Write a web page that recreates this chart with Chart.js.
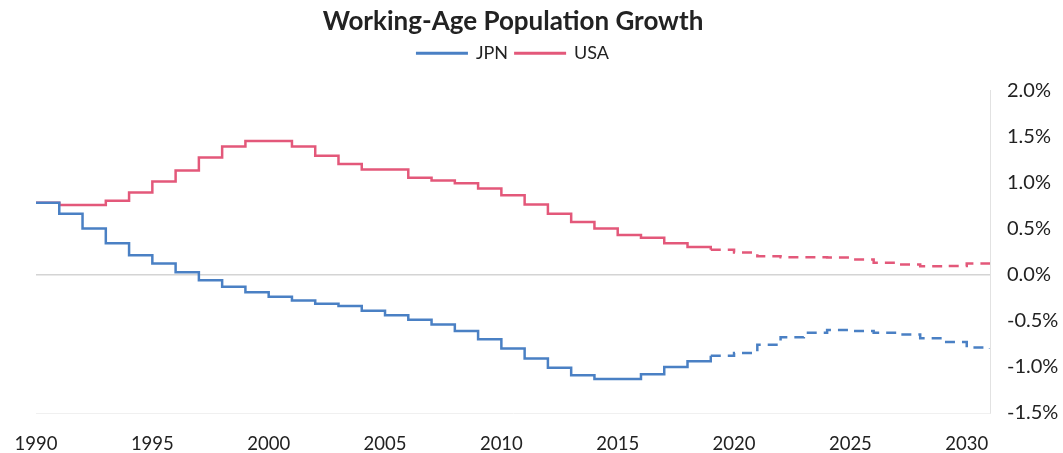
<!DOCTYPE html>
<html>
<head>
<meta charset="utf-8">
<script src="https://cdn.jsdelivr.net/npm/chart.js@4"></script>
<style>
  html, body { margin: 0; padding: 0; background: #fff; }
  #wrap { width: 1063px; height: 453px; }
</style>
</head>
<body>
<div id="wrap"><canvas id="popChart"></canvas></div>
<script>
// Annual working-age population growth (%), projections from 2019 on
const years = [1990, 1991, 1992, 1993, 1994, 1995, 1996, 1997, 1998, 1999,
               2000, 2001, 2002, 2003, 2004, 2005, 2006, 2007, 2008, 2009,
               2010, 2011, 2012, 2013, 2014, 2015, 2016, 2017, 2018, 2019,
               2020, 2021, 2022, 2023, 2024, 2025, 2026, 2027, 2028, 2029,
               2030, 2031];
const jpnGrowth = [0.78, 0.66, 0.50, 0.34, 0.21, 0.12, 0.025, -0.06, -0.13, -0.19,
                   -0.24, -0.28, -0.315, -0.34, -0.39, -0.44, -0.49, -0.54, -0.61, -0.70,
                   -0.80, -0.91, -1.01, -1.09, -1.13, -1.13, -1.08, -1.00, -0.94, -0.88,
                   -0.85, -0.76, -0.68, -0.63, -0.60, -0.61, -0.63, -0.65, -0.69, -0.73,
                   -0.79, -0.80];
const usaGrowth = [0.78, 0.755, 0.755, 0.80, 0.89, 1.01, 1.13, 1.27, 1.39, 1.45,
                   1.45, 1.39, 1.29, 1.20, 1.14, 1.14, 1.05, 1.02, 0.99, 0.935,
                   0.86, 0.76, 0.66, 0.57, 0.50, 0.43, 0.40, 0.34, 0.30, 0.27,
                   0.24, 0.20, 0.19, 0.19, 0.185, 0.165, 0.13, 0.11, 0.09, 0.095,
                   0.12, 0.13];
const projectionStart = 2019;
const xTickYears = [1990, 1995, 2000, 2005, 2010, 2015, 2020, 2025, 2030];
const yTickValues = [-1.5, -1.0, -0.5, 0.0, 0.5, 1.0, 1.5, 2.0];

const JPN_COLOR = '#4a80c4';
const USA_COLOR = '#e3587a';

const toPoints = vals => years.map((y, i) => ({ x: y, y: vals[i] }));
const dashAfter = ctx => ctx.p0.parsed.x >= projectionStart ? [10, 7] : undefined;

// extra room under the legend before the plot starts
const legendGap = {
    id: 'legendGap',
    beforeLayout(chart) {
        const lg = chart.legend;
        if (lg && !lg._gapWrapped) {
            const fit = lg.fit;
            lg.fit = function () { fit.call(this); this.height += 18; };
            lg._gapWrapped = true;
        }
    }
};

Chart.defaults.font.family = 'Lato, "Open Sans", sans-serif';
Chart.defaults.color = '#222';

const ctx = document.getElementById('popChart').getContext('2d');
const popChart = new Chart(ctx, {
    type: 'line',
    data: {
        datasets: [{
            label: 'JPN',
            data: toPoints(jpnGrowth),
            borderColor: JPN_COLOR,
            backgroundColor: JPN_COLOR,
            borderWidth: 2.5,
            stepped: true,
            pointRadius: 0,
            segment: { borderDash: dashAfter }
        }, {
            label: 'USA',
            data: toPoints(usaGrowth),
            borderColor: USA_COLOR,
            backgroundColor: USA_COLOR,
            borderWidth: 2.5,
            stepped: true,
            pointRadius: 0,
            segment: { borderDash: dashAfter }
        }]
    },
    plugins: [legendGap],
    options: {
        responsive: true,
        maintainAspectRatio: false,
        animation: false,
        layout: { padding: { left: 36, right: 0, top: 0, bottom: 0 } },
        plugins: {
            title: {
                display: true,
                text: 'Working-Age Population Growth',
                fullSize: false,
                color: '#222',
                font: { size: 26, weight: 'bold' },
                padding: { top: 6, bottom: 0 }
            },
            legend: {
                display: true,
                fullSize: false,
                labels: {
                    boxWidth: 50,
                    boxHeight: 1,
                    padding: 7,
                    color: '#222',
                    font: { size: 18 },
                    generateLabels: chart => Chart.defaults.plugins.legend.labels.generateLabels(chart)
                        .map(item => Object.assign(item, { lineWidth: 2 }))
                }
            },
            tooltip: { enabled: false }
        },
        scales: {
            x: {
                type: 'linear',
                min: 1990,
                max: 2031,
                afterBuildTicks: scale => { scale.ticks = xTickYears.map(v => ({ value: v })); },
                afterFit: scale => { scale.height = 40; },
                ticks: {
                    padding: 12,
                    font: { size: 18.5 },
                    color: '#222',
                    maxRotation: 0,
                    autoSkip: false,
                    callback: v => String(v)
                },
                grid: { display: false },
                border: { display: true, color: '#f0f0f0' }
            },
            y: {
                position: 'right',
                min: -1.5,
                max: 2.0,
                afterBuildTicks: scale => { scale.ticks = yTickValues.map(v => ({ value: v })); },
                afterFit: scale => { scale.width = 73; },
                ticks: {
                    padding: 17,
                    font: { size: 20 },
                    color: '#222',
                    callback: v => v.toFixed(1) + '%'
                },
                grid: {
                    drawTicks: false,
                    color: c => (c.tick && c.tick.value === 0) ? '#d4d4d4' : 'rgba(0,0,0,0)',
                    lineWidth: 1.5
                },
                border: { display: true, color: '#e2e2e2' }
            }
        }
    }
});
</script>
</body>
</html>
